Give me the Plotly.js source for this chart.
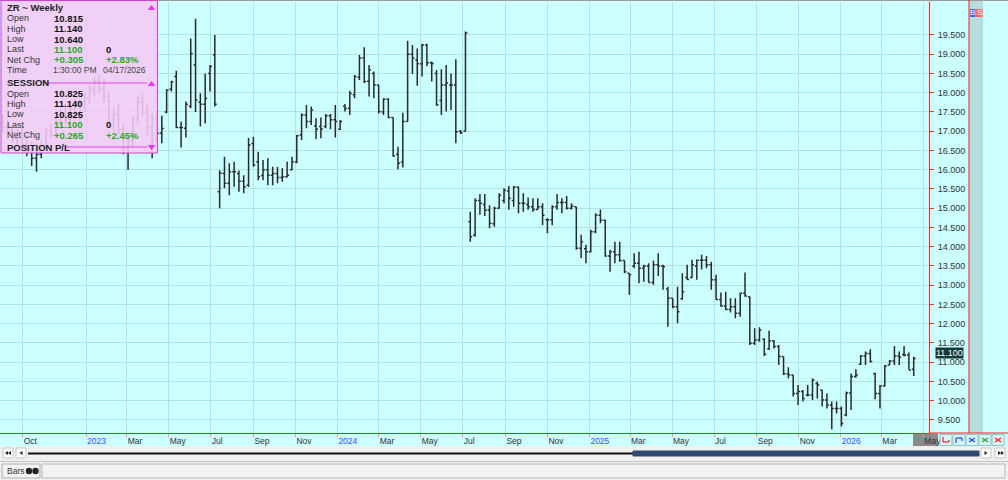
<!DOCTYPE html>
<html><head><meta charset="utf-8">
<script src="https://cdn.plot.ly/plotly-3.0.1.min.js"></script>
<style>html,body{margin:0;padding:0;background:#ccffff;overflow:hidden}#chart{width:1008px;height:480px}</style>
</head><body><div id="chart"></div>
<script>
// ---------- DATA ----------
const weekEnding = [
"2022-09-02","2022-09-09","2022-09-16","2022-09-23","2022-09-30","2022-10-07","2022-10-14","2022-10-21","2022-10-28","2022-11-04",
"2022-11-11","2022-11-18","2022-11-25","2022-12-02","2022-12-09","2022-12-16","2022-12-23","2022-12-30","2023-01-06","2023-01-13",
"2023-01-20","2023-01-27","2023-02-03","2023-02-10","2023-02-17","2023-02-24","2023-03-03","2023-03-10","2023-03-17","2023-03-24",
"2023-03-31","2023-04-07","2023-04-14","2023-04-21","2023-04-28","2023-05-05","2023-05-12","2023-05-19","2023-05-26","2023-06-02",
"2023-06-09","2023-06-16","2023-06-23","2023-06-30","2023-07-07","2023-07-14","2023-07-21","2023-07-28","2023-08-04","2023-08-11",
"2023-08-18","2023-08-25","2023-09-01","2023-09-08","2023-09-15","2023-09-22","2023-09-29","2023-10-06","2023-10-13","2023-10-20",
"2023-10-27","2023-11-03","2023-11-10","2023-11-17","2023-11-24","2023-12-01","2023-12-08","2023-12-15","2023-12-22","2023-12-29",
"2024-01-05","2024-01-12","2024-01-19","2024-01-26","2024-02-02","2024-02-09","2024-02-16","2024-02-23","2024-03-01","2024-03-08",
"2024-03-15","2024-03-22","2024-03-29","2024-04-05","2024-04-12","2024-04-19","2024-04-26","2024-05-03","2024-05-10","2024-05-17",
"2024-05-24","2024-05-31","2024-06-07","2024-06-14","2024-06-21","2024-06-28","2024-07-05","2024-07-12","2024-07-19","2024-07-26",
"2024-08-02","2024-08-09","2024-08-16","2024-08-23","2024-08-30","2024-09-06","2024-09-13","2024-09-20","2024-09-27","2024-10-04",
"2024-10-11","2024-10-18","2024-10-25","2024-11-01","2024-11-08","2024-11-15","2024-11-22","2024-11-29","2024-12-06","2024-12-13",
"2024-12-20","2024-12-27","2025-01-03","2025-01-10","2025-01-17","2025-01-24","2025-01-31","2025-02-07","2025-02-14","2025-02-21",
"2025-02-28","2025-03-07","2025-03-14","2025-03-21","2025-03-28","2025-04-04","2025-04-11","2025-04-18","2025-04-25","2025-05-02",
"2025-05-09","2025-05-16","2025-05-23","2025-05-30","2025-06-06","2025-06-13","2025-06-20","2025-06-27","2025-07-04","2025-07-11",
"2025-07-18","2025-07-25","2025-08-01","2025-08-08","2025-08-15","2025-08-22","2025-08-29","2025-09-05","2025-09-12","2025-09-19",
"2025-09-26","2025-10-03","2025-10-10","2025-10-17","2025-10-24","2025-10-31","2025-11-07","2025-11-14","2025-11-21","2025-11-28",
"2025-12-05","2025-12-12","2025-12-19","2025-12-26","2026-01-02","2026-01-09","2026-01-16","2026-01-23","2026-01-30","2026-02-06",
"2026-02-13","2026-02-20","2026-02-27","2026-03-06","2026-03-13","2026-03-20","2026-03-27","2026-04-03","2026-04-10","2026-04-17"];

const openPx = [
17.20,17.10,17.00,16.80,16.95,16.65,16.50,16.30,16.40,16.65,
17.00,16.90,17.25,17.45,17.30,17.60,17.40,17.75,17.85,18.10,
18.30,18.10,17.90,17.30,17.45,17.05,16.55,16.75,17.30,17.75,
17.50,17.10,16.80,16.95,17.50,18.10,18.42,17.10,17.08,17.65,
18.72,17.75,17.70,18.50,18.99,15.43,15.90,15.65,15.95,15.90,
15.70,15.60,16.68,16.21,15.85,16.00,15.86,15.90,15.80,15.82,
16.00,16.20,16.90,17.42,17.25,17.14,17.12,17.12,17.40,17.30,
17.05,17.65,17.60,17.95,18.40,18.90,18.30,18.50,18.20,17.50,
17.83,17.36,16.40,16.20,17.25,19.00,18.85,18.75,19.24,18.78,
18.50,17.80,18.20,18.20,18.20,17.00,17.00,14.65,14.30,15.20,
15.10,14.95,14.60,15.00,15.20,15.45,15.20,15.55,15.13,15.10,
15.04,14.97,15.04,14.70,14.70,15.04,15.15,15.15,15.00,15.04,
13.96,13.95,13.87,14.39,14.82,14.69,13.76,13.87,13.79,13.64,
13.31,13.50,13.57,13.44,13.50,13.07,13.53,13.50,12.90,12.66,
12.44,12.65,13.20,13.20,13.50,13.65,13.65,13.53,13.14,12.63,
12.46,12.37,12.44,12.27,12.79,12.70,11.49,11.58,11.60,11.35,
11.56,11.41,11.15,10.70,10.67,10.19,10.24,10.15,10.15,10.45,
10.28,10.02,9.89,9.80,9.80,9.63,10.20,10.63,10.95,11.16,
11.23,10.70,10.19,10.38,10.93,11.03,11.16,11.20,11.19,10.815];

const highPx = [
17.45,17.30,17.15,17.05,17.10,16.90,16.75,16.55,16.75,17.10,
17.20,17.35,17.55,17.70,17.75,17.90,17.85,18.00,18.20,18.40,
18.45,18.35,18.00,17.60,17.70,17.20,16.90,17.40,17.90,18.00,
17.70,17.45,17.47,17.40,18.09,18.31,18.57,17.25,17.77,19.41,
19.92,17.99,18.50,18.72,19.50,15.99,16.34,16.17,16.21,15.98,
15.86,16.83,16.86,16.47,16.25,16.30,16.08,16.08,16.04,16.21,
16.34,16.90,17.47,17.68,17.64,17.34,17.36,17.45,17.45,17.68,
17.29,17.71,18.05,18.46,18.98,19.18,18.72,18.55,18.20,17.86,
17.86,17.36,16.60,17.48,19.35,19.24,19.15,19.27,19.27,18.81,
18.59,18.61,18.72,18.50,18.87,17.03,19.59,14.91,15.26,15.37,
15.37,15.08,15.04,15.39,15.52,15.58,15.58,15.56,15.39,15.28,
15.26,15.26,15.13,14.74,15.08,15.37,15.26,15.32,15.13,15.04,
14.31,14.05,14.44,14.87,14.97,14.70,13.92,14.13,14.13,13.64,
13.31,13.83,13.87,13.53,13.57,13.64,13.83,13.53,12.96,12.66,
12.96,13.31,13.53,13.66,13.67,13.79,13.76,13.61,13.27,12.81,
12.83,12.66,12.66,12.81,13.33,12.70,11.88,11.91,11.62,11.82,
11.58,11.45,11.15,10.87,10.67,10.41,10.28,10.41,10.58,10.50,
10.28,10.19,9.98,9.98,9.85,10.24,10.71,10.82,11.19,11.28,
11.34,10.73,10.41,10.93,11.06,11.42,11.28,11.42,11.25,11.14];

const lowPx = [
16.95,16.85,16.70,16.60,16.55,16.35,16.10,15.95,16.30,16.55,
16.80,16.85,17.05,17.20,17.15,17.30,17.25,17.50,17.70,17.90,
18.00,17.75,17.20,17.00,16.90,16.40,16.00,16.60,17.20,17.40,
16.90,16.30,16.73,16.69,17.47,18.03,17.08,16.58,16.84,17.60,
17.50,17.12,17.20,18.03,17.64,15.00,15.52,15.34,15.56,15.43,
15.39,15.55,16.08,15.73,15.73,15.60,15.60,15.65,15.69,15.80,
15.99,16.17,16.77,17.08,17.16,16.79,16.82,17.08,17.05,16.84,
17.03,17.51,17.42,17.86,18.33,18.25,17.90,17.86,17.46,17.42,
17.34,16.34,16.01,16.06,17.25,18.49,18.18,18.42,18.69,18.29,
17.66,17.42,17.51,17.55,16.69,16.93,17.00,14.13,14.26,14.83,
14.80,14.48,14.52,14.99,15.13,14.96,15.04,14.87,14.91,14.96,
14.91,14.96,14.56,14.35,14.56,14.96,14.87,14.97,14.97,13.92,
13.70,13.57,13.85,14.35,14.61,13.74,13.35,13.57,13.61,13.31,
12.75,13.44,13.05,13.09,13.07,13.01,13.24,12.88,11.92,12.40,
12.01,12.62,13.14,13.18,13.14,13.41,13.44,12.88,12.62,12.44,
12.36,12.29,12.14,12.18,12.70,11.45,11.45,11.53,11.16,11.32,
11.36,10.93,10.67,10.58,10.11,9.89,9.98,10.11,10.02,10.06,
9.85,9.80,9.26,9.67,9.33,9.60,9.76,10.60,10.93,10.93,
10.99,10.04,9.80,10.37,10.93,10.93,10.93,11.15,10.81,10.64];

const closePx = [
17.10,17.00,16.80,16.95,16.65,16.50,16.30,16.40,16.65,17.00,
16.90,17.25,17.45,17.30,17.60,17.40,17.75,17.85,18.10,18.30,
18.10,17.90,17.30,17.45,17.05,16.55,16.75,17.30,17.75,17.50,
17.10,16.75,16.95,17.07,18.07,18.28,17.10,17.10,17.70,19.02,
17.81,17.70,17.85,18.68,17.70,15.91,15.65,15.95,15.95,15.70,
15.56,16.64,16.12,15.82,16.00,15.86,15.90,15.80,15.82,15.86,
16.21,16.88,17.42,17.25,17.55,17.05,17.06,17.40,17.30,17.25,
17.25,17.59,17.98,18.42,18.90,18.29,18.59,18.20,17.51,17.83,
17.36,16.36,16.17,17.25,19.00,18.90,18.75,19.24,18.78,18.76,
17.68,18.20,18.25,18.20,16.99,16.96,19.55,14.26,15.20,15.13,
14.95,14.61,15.00,15.34,15.47,15.26,15.55,15.13,15.13,15.04,
14.97,15.04,14.82,14.70,15.04,15.15,15.15,15.00,15.05,13.96,
14.13,13.87,14.39,14.82,14.69,13.76,13.87,13.79,13.64,13.35,
13.27,13.57,13.44,13.50,13.07,13.53,13.50,13.48,12.66,12.44,
12.31,12.83,13.15,13.53,13.65,13.65,13.53,13.14,12.63,12.46,
12.37,12.44,12.27,12.79,12.72,11.49,11.58,11.84,11.21,11.56,
11.41,11.15,10.70,10.67,10.19,10.24,10.06,10.15,10.54,10.41,
10.02,9.89,9.80,9.80,9.41,10.20,10.63,10.67,11.16,11.23,
11.02,10.19,10.38,10.90,11.03,11.16,11.13,11.19,10.795,11.10];

const xTickVals = ["2022-10-01","2023-01-01","2023-03-01","2023-05-01","2023-07-01","2023-09-01","2023-11-01",
"2024-01-01","2024-03-01","2024-05-01","2024-07-01","2024-09-01","2024-11-01",
"2025-01-01","2025-03-01","2025-05-01","2025-07-01","2025-09-01","2025-11-01",
"2026-01-01","2026-03-01","2026-05-01"];
const xTickLabels = ["Oct","2023","Mar","May","Jul","Sep","Nov","2024","Mar","May","Jul","Sep","Nov",
"2025","Mar","May","Jul","Sep","Nov","2026","Mar","May"];
const yTickVals = [9.5,10,10.5,11,11.5,12,12.5,13,13.5,14,14.5,15,15.5,16,16.5,17,17.5,18,18.5,19,19.5];

const symbolName = "ZR ~ Weekly";
const weeklyLabels = ["Open","High","Low","Last","Net Chg","Time"];
const weeklyValues = ["10.815","11.140","10.640","11.100","+0.305","1:30:00 PM"];
const weeklyExtra  = ["","","","0","+2.83%","04/17/2026"];
const sessionLabels = ["Open","High","Low","Last","Net Chg"];
const sessionValues = ["10.825","11.140","10.825","11.100","+0.265"];
const sessionExtra  = ["","","","0","+2.45%"];
const lastPrice = 11.10;

// ---------- LAYOUT HELPERS (pixel -> paper) ----------
const PR = 929, PT = 2, PB = 433;
const px = x => x / PR;
const py = y => (PB - y) / (PB - PT);
const shapes = [], ann = [];
function rect(x0,y0,x1,y1,fill,line,lw,layer){shapes.push({type:'rect',xref:'paper',yref:'paper',x0:px(x0),x1:px(x1),y0:py(y0),y1:py(y1),fillcolor:fill,line:{color:line||'rgba(0,0,0,0)',width:line?(lw||1):0},layer:layer||'above'});}
function seg(x0,y0,x1,y1,color,w){shapes.push({type:'line',xref:'paper',yref:'paper',x0:px(x0),x1:px(x1),y0:py(y0),y1:py(y1),line:{color:color,width:w||1}});}
function poly(pts,fill){let d='M'+pts.map(p=>px(p[0])+','+py(p[1])).join('L')+'Z';shapes.push({type:'path',xref:'paper',yref:'paper',path:d,fillcolor:fill,line:{color:fill,width:0}});}
function circ(cx,cy,r,fill){shapes.push({type:'circle',xref:'paper',yref:'paper',x0:px(cx-r),x1:px(cx+r),y0:py(cy+r),y1:py(cy-r),fillcolor:fill,line:{color:fill,width:0}});}
function txt(x,y,s,o){o=o||{};ann.push({xref:'paper',yref:'paper',x:px(x),y:py(y),text:s,showarrow:false,xanchor:o.anchor||'left',yanchor:'middle',
 font:{family:'Liberation Sans, Arial, sans-serif',size:o.size||9,color:o.color||'#333'}});}

// top border line
seg(0,0.5,1008,0.5,'#9a9a9a',1);
// right side gray column and red line
rect(969,0,983,433,'#b6dede',null,0,'below');
seg(969,0,969,433,'#ff2020',1);
seg(929,433,1008,433,'#ff2020',1);
rect(970,9,975.5,17,'#5a5aff');
rect(975.5,9,982.5,17,'#ff6464');
txt(972.8,13,'B',{anchor:'center',size:8,color:'#fff'});
txt(979,13,'S',{anchor:'center',size:8,color:'#fff'});
// current period highlight on the x axis
rect(913,433.5,938,446,'#8a8a8a',null,0,'below');
// small buttons right of x axis
const btnX=[940,953,966,979,992];
btnX.forEach(b=>rect(b,434.5,b+12,445.5,'#d6f6f6','#8cc4cc',1));
seg(943,437,943,442,'#ee2222',1.2);seg(943,442,949,442,'#ee2222',1.2);seg(949,440,949,442,'#ee2222',1.2);
seg(956,443,956,438,'#2244ee',1.2);seg(956,438,962,438,'#2244ee',1.2);seg(962,438,962,441,'#2244ee',1.2);
seg(969,438,975,442,'#2244ee',1.2);seg(969,442,975,438,'#2244ee',1.2);
seg(982,438,988,442,'#22aa22',1.2);seg(982,442,988,438,'#22aa22',1.2);
seg(995,438,1001,442,'#ee2222',1.2);seg(995,442,1001,438,'#ee2222',1.2);

// bottom scroll row + status row
rect(0,446,1008,480,'#f0f0f0');
rect(3,448,13,458,'#fafafa','#c8c8c8',1);
rect(16,448,26,458,'#fafafa','#c8c8c8',1);
poly([[5,453],[8,451],[8,455]],'#222');poly([[8,453],[11,451],[11,455]],'#222');
poly([[19.5,453],[22.5,451],[22.5,455]],'#222');
seg(28,453.5,633,453.5,'#111',2.2);
rect(633,451,979,456,'#2e4b6f','#2e4b6f',1);
rect(981,448,991,458,'#fafafa','#c8c8c8',1);
rect(995,448,1005,458,'#fafafa','#c8c8c8',1);
poly([[987.5,453],[984.5,451],[984.5,455]],'#222');
poly([[998,451],[1001,453],[998,455]],'#222');poly([[1001,451],[1004,453],[1001,455]],'#222');
seg(0,461.5,1008,461.5,'#c4c4c4',1);
rect(2,464,40,478,'#f2f2f2','#b0b0b0',1);
txt(5,471,'Bars',{size:8.5,color:'#333'});
circ(29,471,3.2,'#222');circ(35.5,471,3.2,'#222');
rect(42,464,1005,478,'#f3f3f3','#b8b8b8',1);

// info panel
rect(1,0.5,157.5,153,'rgba(246,202,246,0.88)','#cc44cc',1);
const MAG='#e040e0';
txt(5,7.5,'<b>'+symbolName+'</b>',{size:9.5,color:'#222'});
poly([[147.5,10],[155.5,10],[151.5,5]],MAG);
const rowsW=[18.3,28.7,39,49.3,59.8,70.3];
weeklyLabels.forEach((l,i)=>{
  txt(5,rowsW[i],l,{size:9,color:'#333'});
  const green = (i===3||i===4);
  const isTime = (i===5);
  txt(isTime?51:52,rowsW[i], isTime? weeklyValues[i] : '<b>'+weeklyValues[i]+'</b>',{size:isTime?8.5:9.5,color:green?'#1faa1f':(isTime?'#444':'#111')});
  if(weeklyExtra[i]) txt(isTime?101:104,rowsW[i], isTime? weeklyExtra[i] : '<b>'+weeklyExtra[i]+'</b>',{size:isTime?8.5:9.5,color:(i===4)?'#1faa1f':(isTime?'#444':'#111')});
});
txt(5,83,'<b>SESSION</b>',{size:9.5,color:'#222'});
seg(44,83,147,83,MAG,1);
poly([[147.5,86],[155.5,86],[151.5,81]],MAG);
const rowsS=[93.7,104,114.3,124.7,135];
sessionLabels.forEach((l,i)=>{
  txt(5,rowsS[i],l,{size:9,color:'#333'});
  const green=(i===3||i===4);
  txt(52,rowsS[i],'<b>'+sessionValues[i]+'</b>',{size:9.5,color:green?'#1faa1f':'#111'});
  if(sessionExtra[i]) txt(104,rowsS[i],'<b>'+sessionExtra[i]+'</b>',{size:9.5,color:(i===4)?'#1faa1f':'#111'});
});
txt(5,147,'<b>POSITION P/L</b>',{size:9.5,color:'#222'});
seg(66,147,147,147,MAG,1);
poly([[147.5,145],[155.5,145],[151.5,150]],MAG);

// last price flag
ann.push({xref:'paper',yref:'y',x:1,y:lastPrice,xanchor:'left',yanchor:'middle',xshift:6,yshift:5,showarrow:false,
  text:lastPrice.toFixed(3),bgcolor:'#123a3a',borderpad:0,font:{family:'Liberation Sans, Arial, sans-serif',size:9,color:'#ffffff'}});

const tickText = xTickLabels.map(t=>/^\d{4}$/.test(t)?'<span style="color:#4a4aff">'+t+'</span>':t);

const trace = {type:'ohlc',x:weekEnding,open:openPx,high:highPx,low:lowPx,close:closePx,
  increasing:{line:{color:'#2a2a2a',width:1.5}},decreasing:{line:{color:'#2a2a2a',width:1.5}},
  tickwidth:0.4,hoverinfo:'skip',showlegend:false};

const layout = {
  width:1008,height:480,margin:{l:0,r:79,t:2,b:47,pad:0},
  paper_bgcolor:'#ccffff',plot_bgcolor:'#ccffff',showlegend:false,
  font:{family:'Liberation Sans, Arial, sans-serif',size:9,color:'#333'},
  xaxis:{type:'date',range:['2022-08-29','2026-05-09 05:00'],rangeslider:{visible:false},
    tickmode:'array',tickvals:xTickVals,ticktext:tickText,ticklabelposition:'outside right',
    showgrid:true,gridcolor:'#b0e2e6',gridwidth:1,zeroline:false,
    showline:true,linecolor:'#ff2020',linewidth:1,ticks:'outside',ticklen:3,tickcolor:'#ff9090',
    tickfont:{family:'Liberation Sans, Arial, sans-serif',size:8.5,color:'#333'},fixedrange:true},
  yaxis:{side:'right',range:[9.162,20.357],tickmode:'array',tickvals:yTickVals,
    ticktext:yTickVals.map(v=>v.toFixed(3)),
    showgrid:true,gridcolor:'#b0e2e6',gridwidth:1,zeroline:false,
    showline:true,linecolor:'#ff2020',linewidth:1,ticks:'outside',ticklen:4,tickcolor:'#ff3030',
    ticklabelstandoff:2,tickfont:{family:'Liberation Sans, Arial, sans-serif',size:9,color:'#333'},fixedrange:true},
  shapes:shapes,annotations:ann
};
Plotly.newPlot('chart',[trace],layout,{displayModeBar:false,staticPlot:true});
</script>
</body></html>
